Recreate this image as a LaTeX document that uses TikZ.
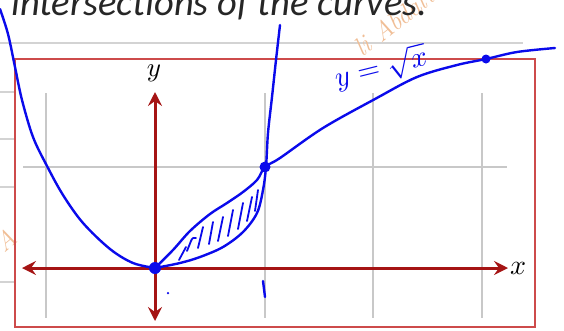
\documentclass[tikz,border=0pt]{standalone}
\usepackage{fontspec}
\newfontfamily\titlefont{Carlito}
\usetikzlibrary{arrows.meta}
\definecolor{axisred}{RGB}{165,20,20}
\definecolor{boxred}{RGB}{205,75,75}
\definecolor{gridgray}{RGB}{200,200,200}
\definecolor{penblue}{RGB}{10,10,235}
\definecolor{wmark}{RGB}{240,190,150}
\begin{document}
\begin{tikzpicture}[x=1pt,y=-1pt,
  gridline/.style={draw=gridgray,line width=1.1pt},
  axisline/.style={draw=axisred,line width=3pt,
    {Stealth[length=14pt,width=14pt,inset=5pt]}-{Stealth[length=14pt,width=14pt,inset=5pt]}},
  pen/.style={draw=penblue,line width=2.4pt,line cap=round,line join=round},
  hatchline/.style={draw=penblue,line width=1.8pt,line cap=round,line join=round},
  dotmark/.style={fill=penblue}]
\useasboundingbox (0,0) rectangle (564,330);
% background page lines
\draw[gridline,draw=gridgray!80] (0,43) -- (523,43);
\foreach \yy in {92,139,187,282} \draw[gridline,draw=gridgray!80] (0,\yy) -- (15,\yy);
% watermark
\node[wmark,rotate=38,anchor=base west,font=\itshape\fontsize{26}{26}\selectfont] (wm) at (360,60) {li Abdalla};
\node[wmark,rotate=40,font=\itshape\fontsize{26}{26}\selectfont] (wm2) at (6,240) {A};
% title
\node[anchor=base west,inner sep=0pt,text=black!85,font=\titlefont\itshape\fontsize{38.5}{39}\selectfont] (title) at (11,15) {intersections of the curves.};
% grid
\foreach \xx in {46,265,373,482} \draw[gridline] (\xx,93) -- (\xx,318);
\draw[gridline] (23,167) -- (507,167);
% frame
\draw[draw=boxred,line width=1.4pt] (15,59) rectangle (535,327);
% axes
\coordinate (xl) at (22,268);
\coordinate (xr) at (508,268);
\coordinate (yt) at (155,92);
\coordinate (yb) at (155,321);
\draw[axisline] (xl) -- (xr);
\draw[axisline] (yb) -- (yt);
\node (ylab) at (154,73) {\scalebox{2.7}{$y$}};
\node (xlab) at (518,268) {\scalebox{2.8}{$x$}};
% parabola-like curve
\draw[pen] plot[smooth,tension=0.55] coordinates {(0,9) (8,34) (15,67) (22,100) (33,137) (47,166) (63,195) (83,223) (110,249) (133,263) (155,268)};
\draw[pen] plot[smooth,tension=0.55] coordinates {(155,268) (180,263) (200,257) (223,247) (243,232) (257,213) (263,190) (266,167) (268,133) (272,97) (276,60) (280,25)};
% sqrt curve
\draw[pen] plot[smooth,tension=0.55] coordinates {(155,268) (173,250) (190,231) (210,214) (227,203) (243,192) (257,180) (265,167) (280,158) (323,128) (375,99) (417,77) (457,65) (486,59) (517,52) (555,48)};
% hatching
\draw[hatchline] (179,260) -- (186,247);
\draw[hatchline] (187,251) -- (191,241) .. controls (192,238) and (194,237) .. (196,238);
\draw[hatchline] (198,248) -- (203,227);
\draw[hatchline] (209,244) -- (213,222);
\draw[hatchline] (218,241) -- (223,217);
\draw[hatchline] (228,236) -- (233,210);
\draw[hatchline] (238,229) -- (243,203);
\draw[hatchline] (247,221) -- (252,197);
\draw[hatchline] (255,211) -- (258,190);
% points
\node[dotmark,circle,inner sep=0pt,minimum size=12pt] (o) at (155,268) {};
\node[dotmark,circle,inner sep=0pt,minimum size=11pt] (p1) at (265,167) {};
\node[dotmark,circle,inner sep=0pt,minimum size=9pt] (p2) at (486,59) {};
% handwritten marks
\node[dotmark,circle,inner sep=0pt,minimum size=2.5pt] (zero) at (168,293) {};
\coordinate (ta) at (263,281);
\coordinate (tb) at (265,297);
\draw[pen] (ta) -- (tb);
% label
\node[text=penblue,rotate=14] (lab) at (381,68) {\scalebox{2.9}{$y=\sqrt{x}$}};
\end{tikzpicture}
\end{document}
